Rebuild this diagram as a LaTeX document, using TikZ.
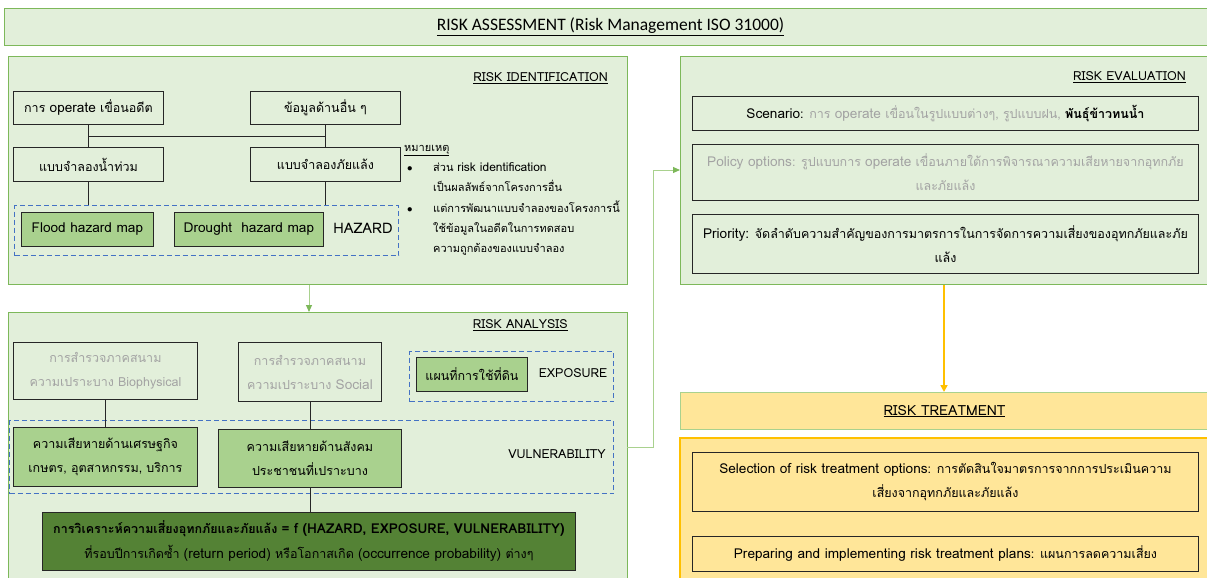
\documentclass[tikz,border=0pt]{standalone}
\usepackage{fontspec}
\setmainfont[Script=Thai]{Loma}
\newfontfamily\latf[Scale=1.09]{Loma}
\newcommand{\lat}[1]{{\latf #1}}
\newfontfamily\titlefont{Carlito}
\usetikzlibrary{arrows.meta,calc}
\definecolor{lgreen}{HTML}{E2EFDA}
\definecolor{pgreen}{HTML}{7DB85A}
\definecolor{lightline}{HTML}{A9D18E}
\definecolor{mgreen}{HTML}{A9D18E}
\definecolor{dgreen}{HTML}{548235}
\definecolor{dblue}{HTML}{4472C4}
\definecolor{yfill}{HTML}{FFE699}
\definecolor{orng}{HTML}{FFC000}
\definecolor{tgray}{HTML}{A3A3A3}
\newcommand{\fsz}[2]{\fontsize{#1}{#2}\selectfont}
\tikzset{
  panel/.style={draw=pgreen, fill=lgreen, line width=1.1pt, anchor=north west, inner sep=0pt},
  box/.style={draw=black!85, line width=0.9pt, anchor=north west, inner sep=0pt, align=center, font=\fsz{12.5}{24}},
  gbox/.style={box, fill=mgreen},
  dbox/.style={draw=dblue, line width=1.1pt, dash pattern=on 5pt off 3pt, anchor=north west, inner sep=0pt},
  lbl/.style={inner sep=0pt, font=\fsz{12.5}{15}},
  conn/.style={draw=black!85, line width=0.9pt},
  garrow/.style={draw=lightline, line width=1pt, -{Triangle[length=7pt,width=6pt,color=pgreen,fill=pgreen]}},
  yarrow/.style={draw=orng, line width=1.6pt, -{Triangle[length=7pt,width=7pt]}}
}
\begin{document}
\begin{tikzpicture}[x=1pt,y=-1pt]
\useasboundingbox (0,0) rectangle (1207,578);
\clip (0,0) rectangle (1207,578);
\fill[white] (0,0) rectangle (1207,578);

% top banner
\node[panel, minimum width=1212pt, minimum height=37pt, font=\titlefont\fsz{17.5}{20}] (banner) at (4,8) {\underline{RISK ASSESSMENT (Risk Management ISO 31000)}};

% ---------------- RISK IDENTIFICATION ----------------
\node[panel, minimum width=619pt, minimum height=228pt] (ident) at (8,56) {};
\node[lbl, anchor=east] (identT) at (608,78) {\underline{RISK IDENTIFICATION}};

\node[box, minimum width=150pt, minimum height=33pt] (op) at (13,91) {การ \lat{operate} เขื่อนอดีต};
\node[box, minimum width=150pt, minimum height=33pt] (dat) at (250,91) {ข้อมูลด้านอื่น ๆ};
\node[box, minimum width=150pt, minimum height=34pt] (fm) at (13,147) {แบบจำลองน้ำท่วม};
\node[box, minimum width=150pt, minimum height=34pt] (dm) at (250,147) {แบบจำลองภัยแล้ง};
\node[dbox, minimum width=384pt, minimum height=50pt] (hz) at (14,205) {};
\node[gbox, minimum width=132pt, minimum height=34pt] (fhm) at (21,212) {\lat{Flood hazard map}};
\node[gbox, minimum width=149pt, minimum height=34pt] (dhm) at (174,212) {\lat{Drought~ hazard map}};
\node[lbl, font=\fsz{14.5}{16}] (hzT) at (363,228) {HAZARD};

\draw[conn] (op) -- (fm);
\draw[conn] (dat) -- (dm);
\draw[conn] ($(op.south)!0.5!(fm.north)$) -- ($(dat.south)!0.5!(dm.north)$);
\draw[conn] (fm.south) -- (fm.south |- hz.north);
\draw[conn] (dm.south) -- (dm.south |- hz.north);

\node[anchor=north west, align=left, inner sep=0pt, font=\fsz{11}{20.3}] (note) at (404,145) {%
\underline{หมายเหตุ}\\
\makebox[29pt][l]{\hspace*{3pt}$\bullet$}ส่วน \lat{risk identification}\\
\hspace*{29pt}เป็นผลลัพธ์จากโครงการอื่น\\
\makebox[29pt][l]{\hspace*{3pt}$\bullet$}แต่การพัฒนาแบบจำลองของโครงการนี้\\
\hspace*{29pt}ใช้ข้อมูลในอดีตในการทดสอบ\\
\hspace*{29pt}ความถูกต้องของแบบจำลอง};

% ---------------- RISK ANALYSIS ----------------
\node[panel, minimum width=619pt, minimum height=290pt] (ana) at (8,312) {};
\node[lbl, anchor=east] (anaT) at (568,325) {\underline{RISK ANALYSIS}};

\node[box, minimum width=184pt, minimum height=57pt, text=tgray] (bio) at (13,342) {การสำรวจภาคสนาม\\ความเปราะบาง Biophysical};
\node[box, minimum width=143pt, minimum height=59pt, text=tgray] (soc) at (238,342) {การสำรวจภาคสนาม\\ความเปราะบาง \lat{Social}};
\node[dbox, minimum width=204pt, minimum height=50pt] (ex) at (409,351) {};
\node[gbox, minimum width=111pt, minimum height=34pt] (land) at (416,357) {แผนที่การใช้ที่ดิน};
\node[lbl] (exT) at (573,373) {EXPOSURE};

\node[dbox, minimum width=604pt, minimum height=73pt] (vu) at (9,420) {};
\node[gbox, minimum width=184pt, minimum height=59pt] (eco) at (13,427) {ความเสียหายด้านเศรษฐกิจ\\เกษตร, อุตสาหกรรม, บริการ};
\node[gbox, minimum width=183pt, minimum height=58pt] (sl) at (218,429) {ความเสียหายด้านสังคม\\ประชาชนที่เปราะบาง};
\node[lbl] (vuT) at (557,454) {VULNERABILITY};

\node[box, fill=dgreen, minimum width=533pt, minimum height=58pt, font=\fsz{12.5}{25}] (rf) at (42,512) {\textbf{การวิเคราะห์ความเสี่ยงอุทกภัยและภัยแล้ง \lat{= f (HAZARD, EXPOSURE, VULNERABILITY)}}\\ที่รอบปีการเกิดซ้ำ \lat{(return period)} หรือโอกาสเกิด \lat{(occurrence probability)} ต่างๆ};

\draw[conn] (bio.south -| eco.north) -- (eco.north);
\draw[conn] (soc.south) -- (soc.south |- sl.north);
\draw[conn] (sl.south) -- (sl.south |- rf.north);

% ---------------- RISK EVALUATION ----------------
\node[panel, minimum width=540pt, minimum height=228pt] (ev) at (680,56) {};
\node[lbl, anchor=east] (evT) at (1186,77) {\underline{RISK EVALUATION}};
\node[box, minimum width=506pt, minimum height=34pt] (sc) at (692,96) {\lat{Scenario}: {\color{tgray}การ \lat{operate} เขื่อนในรูปแบบต่างๆ, รูปแบบฝน,} \textbf{พันธุ์ข้าวทนน้ำ}};
\node[box, minimum width=506pt, minimum height=56pt, text=tgray] (po) at (692,144) {\lat{Policy options}: รูปแบบการ \lat{operate} เขื่อนภายใต้การพิจารณาความเสียหายจากอุทกภัย\\และภัยแล้ง};
\node[box, minimum width=506pt, minimum height=59pt] (pr) at (692,214) {\lat{Priority:} จัดลำดับความสำคัญของการมาตรการในการจัดการความเสี่ยงของอุทกภัยและภัย\\แล้ง};

% ---------------- RISK TREATMENT ----------------
\node[panel, draw=lightline, fill=yfill, minimum width=528pt, minimum height=37pt, font=\fsz{14}{16}] (trh) at (680,392) {\underline{RISK TREATMENT}};
\node[panel, draw=orng, fill=yfill, line width=1.5pt, minimum width=540pt, minimum height=150pt] (tr) at (679,437) {};
\node[box, minimum width=506pt, minimum height=59pt] (sel) at (692,452) {\lat{Selection of risk treatment options}: การตัดสินใจมาตรการจากการประเมินความ\\เสี่ยงจากอุทกภัยและภัยแล้ง};
\node[box, minimum width=506pt, minimum height=35pt] (prep) at (692,536) {\lat{Preparing and implementing risk treatment plans}: แผนการลดความเสี่ยง};

% ---------------- connectors ----------------
\draw[garrow] (ident.south -| 309,0) -- (ana.north -| 309,0);
\coordinate (c1) at (627,447);
\coordinate (c2) at (680,170);
\draw[garrow] (c1) -- (653,447) |- (c2);
\draw[yarrow] (ev.south -| 944,0) -- (trh.north -| 944,0);
\end{tikzpicture}
\end{document}
